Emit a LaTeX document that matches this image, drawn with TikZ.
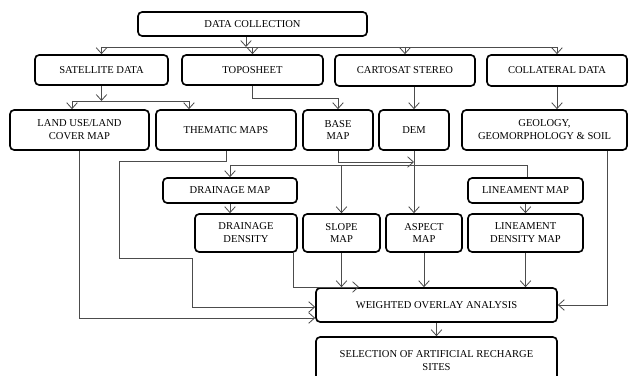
\documentclass[tikz,border=0pt]{standalone}
\usepackage{fontspec}
\setmainfont{Liberation Serif}
\usetikzlibrary{arrows.meta}

\begin{document}
\begin{tikzpicture}[x=0.03cm,y=-0.03cm,
		box/.style={draw,line width=1.4pt,rounded corners=3.5pt,inner sep=0pt,align=center,font=\fontsize{9}{11}\selectfont},
		wh/.style 2 args={minimum width=#1cm,minimum height=#2cm},
		ln/.style={line width=0.7pt,draw=black!70},
		arr/.style={ln,-{Straight Barb[length=5pt,width=9pt]}}]
		\useasboundingbox (0,0) rectangle (629,376);
	
		% sources
		\node[box,wh={6.87}{0.72}] (dc) at (252.5,24) {DATA COLLECTION};
		\node[box,wh={3.99}{0.9}] (sat) at (101.5,70) {SATELLITE DATA};
		\node[box,wh={4.23}{0.9}] (topo) at (252.5,70) {TOPOSHEET};
		\node[box,wh={4.2}{0.93}] (carto) at (405,70.5) {CARTOSAT STEREO};
		\node[box,wh={4.2}{0.93}] (coll) at (557,70.5) {COLLATERAL DATA};
	
		% derived layers
		\node[box,wh={4.17}{1.2}] (lulc) at (79.5,130) {LAND USE/LAND\\COVER MAP};
		\node[box,wh={4.2}{1.2}] (them) at (226,130) {THEMATIC MAPS};
		\node[box,wh={2.1}{1.2}] (base) at (338,130) {BASE\\MAP};
		\node[box,wh={2.1}{1.2}] (dem) at (414,130) {DEM};
		\node[box,wh={4.95}{1.2}] (geo) at (544.5,130) {GEOLOGY,\\GEOMORPHOLOGY \& SOIL};
		\node[box,wh={4.02}{0.75}] (dmap) at (230,190.5) {DRAINAGE MAP};
		\node[box,wh={3.06}{1.14}] (dden) at (246,233) {DRAINAGE\\DENSITY};
		\node[box,wh={2.31}{1.14}] (slope) at (341.5,233) {SLOPE\\MAP};
		\node[box,wh={2.28}{1.14}] (aspect) at (424,233) {ASPECT\\MAP};
		\node[box,wh={3.45}{0.75}] (lmap) at (525.5,190.5) {LINEAMENT MAP};
		\node[box,wh={3.45}{1.14}] (lden) at (525.5,233) {LINEAMENT\\DENSITY MAP};
		\node[box,wh={7.23}{1.02}] (wo) at (436.5,305) {WEIGHTED OVERLAY ANALYSIS};
		\node[box,wh={7.23}{1.41}] (sel) at (436.5,360.5) {SELECTION OF ARTIFICIAL RECHARGE\\SITES};
	
		% bus below data collection
		\coordinate (bus1) at (246,47);
		\draw[arr] (dc.south -| bus1) -- (bus1);
		\draw[ln] (bus1 -| sat.north) -- (bus1 -| coll.north);
		\foreach \n in {sat,topo,carto,coll}
			\draw[arr] (bus1 -| \n.north) -- (\n.north);
	
		\coordinate (bus2) at (72,101);
		\coordinate (bus2r) at (189,101);
		\draw[arr] (sat.south) -- (sat.south |- bus2);
		\draw[ln] (bus2) -- (bus2r);
		\draw[arr] (bus2) -- (bus2 |- lulc.north);
		\draw[arr] (bus2r) -- (bus2r |- them.north);
	
		\coordinate (tb) at (0,98);
		\draw[arr] (topo.south) |- (tb -| base.north) -- (base.north);
		\draw[arr] (carto.south -| dem.north) -- (dem.north);
		\draw[arr] (coll.south) -- (coll.south |- geo.north);
	
		% into the overlay from the left
		\coordinate (tk1) at (119,161);
		\coordinate (tk2) at (192,258);
		\draw[arr] (lulc.south) |- ([yshift=-0.39cm]wo.west);
		\draw[arr] (them.south) |- (tk1) |- (tk2) |- ([yshift=-0.06cm]wo.west);
	
		% dem bus
		\coordinate (bm) at (414,162);
		\draw[arr] (base.south) |- (bm);
		\coordinate (bus3) at (230,165);
		\coordinate (bus3r) at (527,165);
		\draw[ln] (dem.south) -- (dem.south |- bus3);
		\draw[ln] (bus3) -- (bus3r) -- (bus3r |- lmap.north);
		\draw[arr] (bus3) -- (dmap.north);
		\draw[arr] (bus3 -| slope.north) -- (slope.north);
		\draw[arr] (bus3 -| dem.south) -- (dem.south |- aspect.north);
		\draw[arr] (dmap.south) -- (dmap.south |- dden.north);
		\draw[arr] (lmap.south) -- (lden.north);
	
		\coordinate (dd) at (359,287);
		\draw[arr] ([xshift=-0.12cm]dden.south east) |- (dd);
		\foreach \n in {slope,aspect,lden}
			\draw[arr] (\n.south) -- (\n.south |- wo.north);
		\draw[arr] ([xshift=1.9cm]geo.south) |- (wo.east);
		\draw[arr] (wo.south) -- (sel.north);
	\end{tikzpicture}
\end{document}
